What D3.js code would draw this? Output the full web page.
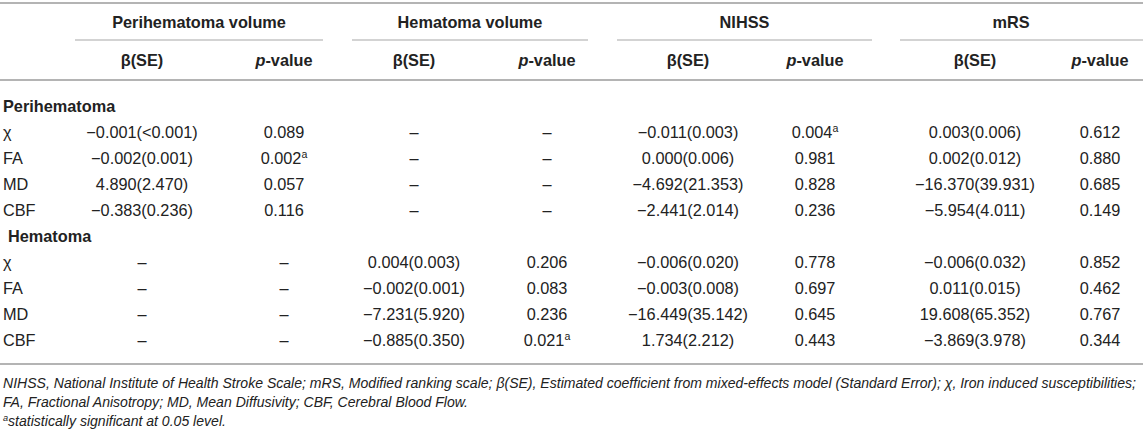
<!DOCTYPE html>
<html>
<head>
<meta charset="utf-8">
<script src="https://cdn.jsdelivr.net/npm/d3@7"></script>
<style>
  html, body { margin: 0; padding: 0; background: #fff; }
  svg { display: block; }
</style>
</head>
<body>
<svg width="1143" height="430"></svg>
<script>
// Table content
const groups = ['Perihematoma volume', 'Hematoma volume', 'NIHSS', 'mRS'];
const subHeaders = ['β(SE)', 'p-value'];
const sections = ['Perihematoma', 'Hematoma'];
const measures = ['χ', 'FA', 'MD', 'CBF'];

// values per measure, columns: peri β, peri p, hem β, hem p, NIHSS β, NIHSS p, mRS β, mRS p
// "^a" marks a superscript footnote
const perihematomaValues = [
    ['−0.001(<0.001)', '0.089', '–', '–', '−0.011(0.003)', '0.004^a', '0.003(0.006)', '0.612'],
    ['−0.002(0.001)', '0.002^a', '–', '–', '0.000(0.006)', '0.981', '0.002(0.012)', '0.880'],
    ['4.890(2.470)', '0.057', '–', '–', '−4.692(21.353)', '0.828', '−16.370(39.931)', '0.685'],
    ['−0.383(0.236)', '0.116', '–', '–', '−2.441(2.014)', '0.236', '−5.954(4.011)', '0.149']
];
const hematomaValues = [
    ['–', '–', '0.004(0.003)', '0.206', '−0.006(0.020)', '0.778', '−0.006(0.032)', '0.852'],
    ['–', '–', '−0.002(0.001)', '0.083', '−0.003(0.008)', '0.697', '0.011(0.015)', '0.462'],
    ['–', '–', '−7.231(5.920)', '0.236', '−16.449(35.142)', '0.645', '19.608(65.352)', '0.767'],
    ['–', '–', '−0.885(0.350)', '0.021^a', '1.734(2.212)', '0.443', '−3.869(3.978)', '0.344']
];
const footnotes = [
    'NIHSS, National Institute of Health Stroke Scale; mRS, Modified ranking scale; β(SE), Estimated coefficient from mixed-effects model (Standard Error); χ, Iron induced susceptibilities;',
    'FA, Fractional Anisotropy; MD, Mean Diffusivity; CBF, Cerebral Blood Flow.',
    '^astatistically significant at 0.05 level.'
];

const width = 1143;
const height = 430;
const textColor = '#222';
const ruleColor = '#b4b4b4';
const bodySize = '16.3px';
const font = "'Liberation Sans', Arial, Helvetica, sans-serif";
const svg = d3.select('svg')
    .style('font-family', font)
    .attr('fill', textColor);

// Column positions
const colKeys = d3.range(8);
const xCol = d3.scaleOrdinal()
    .domain(colKeys)
    .range([142, 284, 414, 547, 688, 815, 975, 1100]);
const xGroup = d3.scaleOrdinal()
    .domain(groups)
    .range([[75, 323], [352, 588], [617, 872], [900, 1143]]);

// Row positions (section label + 4 measures, twice)
const bodyRows = [];
sections.forEach((s, si) => {
    bodyRows.push({ type: 'section', label: s, indent: si === 0 ? 3 : 8 });
    const vals = si === 0 ? perihematomaValues : hematomaValues;
    measures.forEach((m, mi) => bodyRows.push({ type: 'row', label: m, values: vals[mi] }));
});
const yRow = d3.scaleLinear()
    .domain([0, bodyRows.length - 1])
    .range([106, 340]);

// write text that may hold a "^a" superscript
function fillText(sel, str) {
    const parts = str.split('^');
    sel.append('tspan').text(parts[0]);
    if (parts.length > 1) {
        const sup = parts[1].slice(0, 1);
        sel.append('tspan')
            .attr('baseline-shift', 'super')
            .style('font-size', '0.65em')
            .text(sup);
        if (parts[1].length > 1) sel.append('tspan').text(parts[1].slice(1));
    }
}

// Rules
const rules = [
    { y: 3, x1: 0, x2: width, w: 2 },
    { y: 80, x1: 0, x2: width, w: 2 },
    { y: 364, x1: 0, x2: width, w: 2 }
];
svg.selectAll('.rule')
    .data(rules)
    .join('line')
    .attr('class', 'rule')
    .attr('x1', d => d.x1).attr('x2', d => d.x2)
    .attr('y1', d => d.y).attr('y2', d => d.y)
    .attr('stroke', ruleColor)
    .attr('stroke-width', d => d.w);

// Group headers and their underlines
svg.selectAll('.group-line')
    .data(groups)
    .join('line')
    .attr('class', 'group-line')
    .attr('x1', d => xGroup(d)[0]).attr('x2', d => xGroup(d)[1])
    .attr('y1', 40).attr('y2', 40)
    .attr('stroke', '#c4c4c4')
    .attr('stroke-width', 1.3);

svg.selectAll('.group-title')
    .data(groups)
    .join('text')
    .attr('class', 'group-title')
    .attr('x', d => (xGroup(d)[0] + Math.min(xGroup(d)[1], 1122)) / 2)
    .attr('y', 22)
    .attr('dy', '0.35em')
    .attr('text-anchor', 'middle')
    .style('font-size', bodySize)
    .style('font-weight', 'bold')
    .text(d => d);

// Sub headers
svg.selectAll('.sub-head')
    .data(colKeys)
    .join('text')
    .attr('class', 'sub-head')
    .attr('x', d => xCol(d))
    .attr('y', 60)
    .attr('dy', '0.35em')
    .attr('text-anchor', 'middle')
    .style('font-size', bodySize)
    .style('font-weight', 'bold')
    .each(function (d) {
        const t = d3.select(this);
        if (d % 2 === 0) {
            t.text(subHeaders[0]);
        } else {
            t.append('tspan').style('font-style', 'italic').text('p');
            t.append('tspan').text('-value');
        }
    });

// Body
const rowG = svg.selectAll('.body-row')
    .data(bodyRows)
    .join('g')
    .attr('class', 'body-row')
    .attr('transform', (d, i) => `translate(0, ${yRow(i)})`);

rowG.append('text')
    .attr('x', d => d.type === 'section' ? d.indent : 3)
    .attr('dy', '0.35em')
    .style('font-size', bodySize)
    .style('font-weight', d => d.type === 'section' ? 'bold' : 'normal')
    .text(d => d.label);

rowG.filter(d => d.type === 'row')
    .selectAll('.cell')
    .data(d => d.values)
    .join('text')
    .attr('class', 'cell')
    .attr('x', (d, i) => xCol(i))
    .attr('dy', '0.35em')
    .attr('text-anchor', 'middle')
    .style('font-size', bodySize)
    .each(function (d) { fillText(d3.select(this), d); });

// Footnotes, sized so the first line fits the table width
const notes = svg.selectAll('.footnote')
    .data(footnotes)
    .join('text')
    .attr('class', 'footnote')
    .attr('x', 3)
    .attr('y', (d, i) => 383 + i * 19)
    .attr('dy', '0.35em')
    .style('font-size', '15px')
    .style('font-style', 'italic')
    .each(function (d) { fillText(d3.select(this), d); });

const firstLen = notes.node().getComputedTextLength();
const noteSize = Math.min(15, 15 * 1134 / firstLen);
notes.style('font-size', noteSize + 'px');
</script>
</body>
</html>
